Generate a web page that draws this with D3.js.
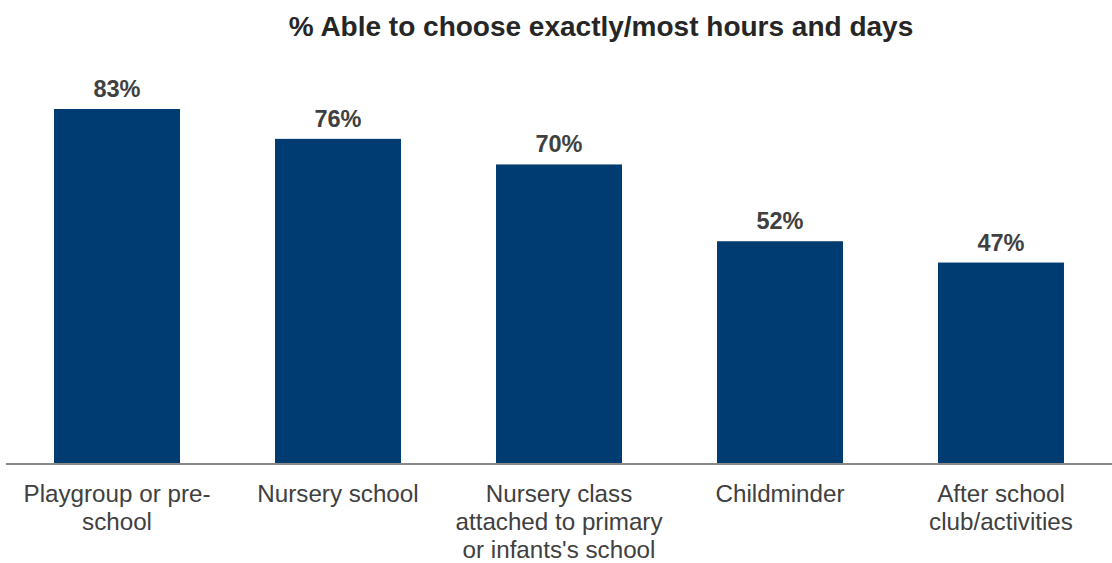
<!DOCTYPE html>
<html>
<head>
<meta charset="utf-8">
<script src="https://cdn.jsdelivr.net/npm/d3@7"></script>
<style>
  html, body { margin: 0; padding: 0; background: #ffffff; }
  svg { display: block; font-family: "Liberation Sans", Arial, sans-serif; }
</style>
</head>
<body>
<svg id="chart" width="1112" height="563"></svg>
<script>
// Provision type and share of parents able to choose hours/days
const categories = [
  "Playgroup or pre-school",
  "Nursery school",
  "Nursery class attached to primary or infants's school",
  "Childminder",
  "After school club/activities"
];
// Wrapped label lines for each category
const categoryLines = [
  ["Playgroup or pre-", "school"],
  ["Nursery school"],
  ["Nursery class", "attached to primary", "or infants's school"],
  ["Childminder"],
  ["After school", "club/activities"]
];
const values = [83, 76, 70, 52, 47];
const title = "% Able to choose exactly/most hours and days";

const W = 1112, H = 563;
const baseY = 463;

const svg = d3.select("#chart");

const x = d3.scaleBand()
  .domain(categories)
  .range([6.5, 1111.5])
  .paddingInner(0.43)
  .paddingOuter(0.215);

const y = d3.scaleLinear()
  .domain([0, 100])
  .range([baseY, 36.5]);

// Title
svg.append("text")
  .attr("x", 601)
  .attr("y", 36)
  .attr("text-anchor", "middle")
  .attr("font-size", 28)
  .attr("font-weight", "bold")
  .attr("fill", "#262626")
  .text(title);

// Bars
svg.append("g")
  .selectAll("rect")
  .data(values)
  .join("rect")
  .attr("x", (d, i) => x(categories[i]))
  .attr("width", x.bandwidth())
  .attr("y", d => y(d))
  .attr("height", d => y(0) - y(d))
  .attr("fill", "#003c71");

// Value labels
svg.append("g")
  .selectAll("text")
  .data(values)
  .join("text")
  .attr("x", (d, i) => x(categories[i]) + x.bandwidth() / 2)
  .attr("y", d => y(d) - 12)
  .attr("text-anchor", "middle")
  .attr("font-size", 23.5)
  .attr("font-weight", "bold")
  .attr("fill", "#404040")
  .text(d => d + "%");

// Baseline axis
const xAxis = d3.axisBottom(x).tickSize(0).tickFormat(() => "");
const axisG = svg.append("g")
  .attr("transform", `translate(0,${baseY + 1})`)
  .call(xAxis);
axisG.select(".domain")
  .attr("d", "M6,0H1112")
  .attr("stroke", "#898989")
  .attr("stroke-width", 2);

// Category labels (multi-line)
const labels = svg.append("g")
  .selectAll("text")
  .data(categories)
  .join("text")
  .attr("text-anchor", "middle")
  .attr("font-size", 24.2)
  .attr("fill", "#404040")
  .attr("transform", d => `translate(${x(d) + x.bandwidth() / 2},502)`);

labels.each(function(d, i) {
  d3.select(this).selectAll("tspan")
    .data(categoryLines[i])
    .join("tspan")
    .attr("x", 0)
    .attr("y", (l, j) => j * 28)
    .text(l => l);
});
</script>
</body>
</html>
